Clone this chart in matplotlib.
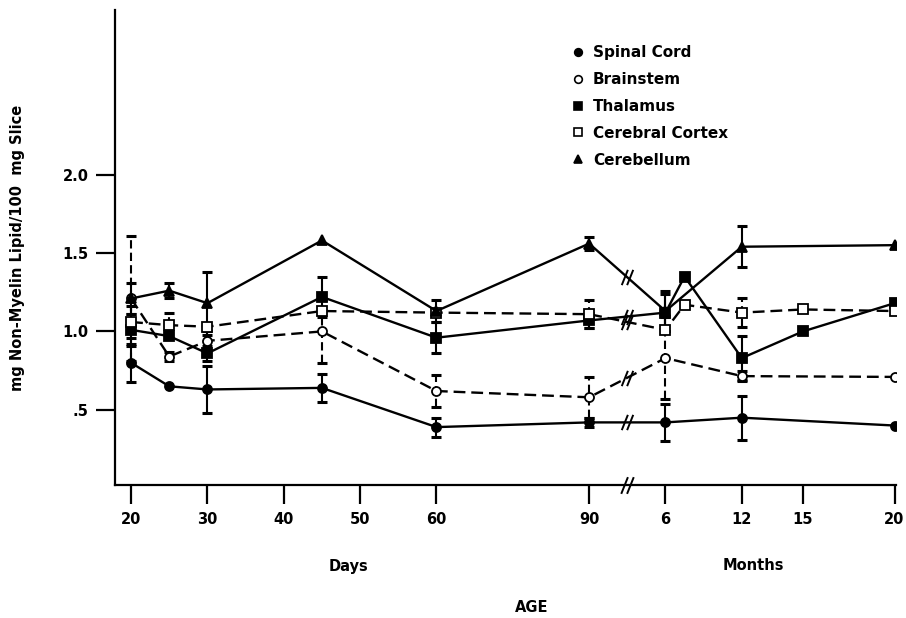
import numpy as np
import matplotlib
matplotlib.use("Agg")
import matplotlib.pyplot as plt
from matplotlib.lines import Line2D
from matplotlib.path import Path

# age axis is broken and not linear: tick labels and their slots on the axis
DAY_TICKS   = [20, 30, 40, 50, 60, 90]
DAY_POS     = [0, 1, 2, 3, 4, 6]
MONTH_TICKS = [6, 12, 15, 20]
MONTH_POS   = [7, 8, 8.8, 10]
BREAK_POS   = 6.5

Y_TICKS  = [0.5, 1.0, 1.5, 2.0]
Y_LABELS = [".5", "1.0", "1.5", "2.0"]

# --- data (mg non-myelin lipid / 100 mg slice) ---
spinal_days       = [20, 25, 30, 45, 60, 90]
spinal_day_vals   = [0.80, 0.65, 0.63, 0.64, 0.39, 0.42]
spinal_day_err    = [0.12, 0, 0.15, 0.09, 0.06, 0.03]
spinal_months     = [6, 12, 20]
spinal_month_vals = [0.42, 0.45, 0.40]
spinal_month_err  = [0.12, 0.14, 0]

brain_days        = [20, 25, 30, 45, 60, 90]
brain_day_vals    = [1.21, 0.84, 0.94, 1.00, 0.62, 0.58]
brain_day_err     = [0.40, 0.03, 0.06, 0.20, 0.10, 0.13]
brain_months      = [6, 12, 20]
brain_month_vals  = [0.83, 0.715, 0.71]
brain_month_err   = [0.26, 0.03, 0]

thal_days         = [20, 25, 30, 45, 60, 90]
thal_day_vals     = [1.01, 0.97, 0.86, 1.22, 0.96, 1.07]
thal_day_err      = [0.10, 0, 0.05, 0.13, 0.10, 0.05]
thal_months       = [6, 7.5, 12, 15, 20]
thal_month_vals   = [1.12, 1.35, 0.83, 1.00, 1.18]
thal_month_err    = [0.12, 0, 0.14, 0, 0]

cortex_days       = [20, 25, 30, 45, 60, 90]
cortex_day_vals   = [1.06, 1.04, 1.03, 1.13, 1.12, 1.11]
cortex_day_err    = [0.10, 0.08, 0, 0, 0, 0.09]
cortex_months     = [6, 7.5, 12, 15, 20]
cortex_month_vals = [1.01, 1.17, 1.12, 1.14, 1.13]
cortex_month_err  = [0, 0, 0.09, 0, 0]

cbl_days          = [20, 25, 30, 45, 60, 90]
cbl_day_vals      = [1.21, 1.26, 1.18, 1.58, 1.13, 1.56]
cbl_day_err       = [0.10, 0.05, 0.20, 0, 0.07, 0.04]
cbl_months        = [6, 12, 20]
cbl_month_vals    = [1.13, 1.54, 1.55]
cbl_month_err     = [0.13, 0.13, 0]

SERIES = [
    ("Spinal Cord",     "o", "black", "-",  spinal_days, spinal_day_vals, spinal_day_err,
     spinal_months, spinal_month_vals, spinal_month_err),
    ("Brainstem",       "o", "white", "--", brain_days, brain_day_vals, brain_day_err,
     brain_months, brain_month_vals, brain_month_err),
    ("Thalamus",        "s", "black", "-",  thal_days, thal_day_vals, thal_day_err,
     thal_months, thal_month_vals, thal_month_err),
    ("Cerebral Cortex", "s", "white", "--", cortex_days, cortex_day_vals, cortex_day_err,
     cortex_months, cortex_month_vals, cortex_month_err),
    ("Cerebellum",      "^", "black", "-",  cbl_days, cbl_day_vals, cbl_day_err,
     cbl_months, cbl_month_vals, cbl_month_err),
]


def day_x(d):
    return np.interp(d, DAY_TICKS, DAY_POS)


def month_x(m):
    return np.interp(m, MONTH_TICKS, MONTH_POS)


# "//" break symbol
BREAK_MARK = Path([(-0.75, -1), (0.05, 1), (-0.05, -1), (0.75, 1)],
                  [Path.MOVETO, Path.LINETO, Path.MOVETO, Path.LINETO])

plt.rcParams["font.family"] = ["DejaVu Sans"]
plt.rcParams["font.weight"] = "bold"

fig = plt.figure(figsize=(9.06, 6.18), dpi=100)
ax = fig.add_axes([0.127, 0.215, 0.862, 0.769])

handles = []
for name, mk, face, ls, dd, dv, de, mm, mv, me in SERIES:
    x = np.concatenate([day_x(dd), month_x(mm)])
    y = np.array(dv + mv, dtype=float)
    e = np.array(de + me, dtype=float)
    ax.plot(x, y, color="black", lw=1.7, ls=ls, dashes=(5, 2.5) if ls == "--" else (None, None),
            marker=mk, ms=6.5 if mk != "^" else 7, mfc=face, mec="black", mew=1.3, zorder=3)
    has = e > 0
    eb = ax.errorbar(x[has], y[has], yerr=e[has], fmt="none", ecolor="black",
                     elinewidth=1.5, capsize=3.5, capthick=2.2, zorder=2)
    if ls == "--":
        for lc in eb[2]:
            lc.set_linestyle((0, (4, 2)))
    # break symbol on the line between 90 days and 6 months
    yb = np.interp(BREAK_POS, [day_x(dd[-1]), month_x(mm[0])], [dv[-1], mv[0]])
    ax.plot([BREAK_POS], [yb], marker=BREAK_MARK, ms=11, color="black", mew=1.4,
            ls="none", zorder=4)
    handles.append(Line2D([], [], ls="none", marker=mk, ms=5.5, mfc=face,
                          mec="black", mew=1.2, color="black", label=name))

ax.set_xlim(-0.21, 10.02)
ax.set_ylim(0.02, 3.05)

ax.plot([BREAK_POS], [0.02], marker=BREAK_MARK, ms=12, color="black", mew=1.4,
        ls="none", clip_on=False, zorder=5)

ax.set_xticks(DAY_POS + MONTH_POS)
ax.set_xticklabels([str(t) for t in DAY_TICKS + MONTH_TICKS])
ax.set_yticks(Y_TICKS)
ax.set_yticklabels(Y_LABELS)
ax.tick_params(axis="both", direction="out", length=14, width=1.6,
               labelsize=10.5, pad=5)

for side in ("top", "right"):
    ax.spines[side].set_visible(False)
for side in ("left", "bottom"):
    ax.spines[side].set_linewidth(1.6)

ax.set_ylabel("mg Non-Myelin Lipid/100  mg Slice", fontsize=10.5,
              fontweight="bold", labelpad=28)
ax.yaxis.set_label_coords(-0.115, 0.5)

fig.text(349 / 906, 1 - 566 / 618, "Days", ha="center", va="center",
         fontsize=10.5, fontweight="bold")
fig.text(753 / 906, 1 - 566 / 618, "Months", ha="center", va="center",
         fontsize=10.5, fontweight="bold")
fig.text(532 / 906, 1 - 607 / 618, "AGE", ha="center", va="center",
         fontsize=10.5, fontweight="bold")

leg = ax.legend(handles=handles, loc="upper left", bbox_to_anchor=(0.567, 0.955),
                frameon=False, handlelength=0.8, handletextpad=0.6,
                labelspacing=0.78, prop={"weight": "bold", "size": 11})

fig.savefig("out.png", dpi=100)
